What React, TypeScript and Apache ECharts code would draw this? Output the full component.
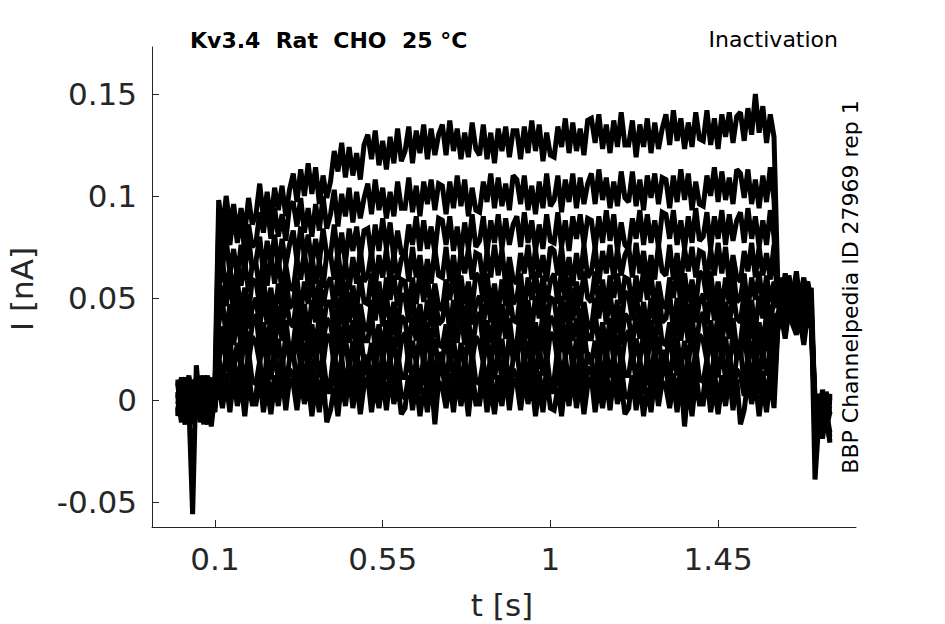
import React, { useEffect, useRef } from "react";
import * as echarts from "echarts";

// Currents in pA, sampled every 10 ms from t = 0.00 s to t = 1.75 s.
// Segments: pre (0.00-0.10, 11), pulse (0.11-1.60, 150), test (1.61-1.70, 10), tail (1.71-1.75, 5)
const sampleStepS = 0.01;

const traceA = [
  8, -9, 11, 2, -12, 9, 0, -10, 6, -4, 10,
  98, 83, 100, 85, 96, 81, 94, 82, 99, 86,
  91, 106, 89, 102, 87, 104, 93, 105, 90, 103,
  111, 97, 113, 100, 116, 101, 114, 96, 110, 99,
  107, 122, 112, 126, 109, 124, 110, 121, 108, 125,
  130, 118, 132, 115, 127, 113, 129, 116, 133, 117,
  122, 134, 116, 132, 121, 135, 118, 133, 120, 130,
  135, 120, 137, 122, 133, 118, 131, 119, 136, 123,
  120, 135, 118, 131, 116, 133, 122, 134, 119, 132,
  132, 118, 134, 121, 137, 122, 135, 117, 131, 120,
  119, 134, 124, 138, 121, 136, 122, 133, 120, 137,
  138, 126, 140, 123, 135, 121, 137, 124, 141, 125,
  125, 137, 119, 135, 124, 138, 121, 136, 123, 133,
  140, 125, 142, 127, 138, 123, 136, 124, 141, 128,
  127, 142, 125, 138, 123, 140, 129, 141, 126, 139,
  141, 127, 143, 130, 150, 131, 144, 126, 140, 129,
  58, 49, 62, 53, 45, 57, 51, 60, 47, 55,
  -5, -14, 2, -9, -3,
];

const traceB = [
  -6, 10, -11, 4, 1, -8, 12, -3, 7, -13, 3,
  87, 73, 89, 76, 92, 77, 90, 72, 86, 75,
  77, 92, 82, 96, 79, 94, 80, 91, 78, 95,
  97, 85, 99, 82, 94, 80, 96, 83, 100, 84,
  91, 103, 85, 101, 90, 104, 87, 102, 89, 99,
  106, 91, 108, 93, 104, 89, 102, 90, 107, 94,
  94, 109, 92, 105, 90, 107, 96, 108, 93, 106,
  105, 91, 107, 94, 110, 95, 108, 90, 104, 93,
  92, 107, 97, 111, 94, 109, 95, 106, 93, 110,
  108, 96, 110, 93, 105, 91, 107, 94, 111, 95,
  98, 110, 92, 108, 97, 111, 94, 109, 96, 106,
  111, 96, 113, 98, 109, 94, 107, 95, 112, 99,
  97, 112, 95, 108, 93, 110, 99, 111, 96, 109,
  108, 94, 110, 97, 113, 98, 111, 93, 107, 96,
  95, 110, 100, 114, 97, 112, 98, 109, 96, 113,
  111, 99, 113, 96, 108, 94, 110, 97, 114, 98,
  52, 60, 47, 56, 50, 63, 48, 54, 58, 46,
  -39, -11, -4, -16, 1,
];

const traceC = [
  9, -4, 2, 12, -9, 5, -7, 10, -5, 6, -2,
  77, 65, 79, 62, 74, 60, 76, 63, 80, 64,
  68, 80, 62, 78, 67, 81, 64, 79, 66, 76,
  83, 68, 85, 70, 81, 66, 79, 67, 84, 71,
  71, 86, 69, 82, 67, 84, 73, 85, 70, 83,
  84, 70, 86, 73, 89, 74, 87, 69, 83, 72,
  71, 86, 76, 90, 73, 88, 74, 85, 72, 89,
  88, 76, 90, 73, 85, 71, 87, 74, 91, 75,
  78, 90, 72, 88, 77, 91, 74, 89, 76, 86,
  90, 75, 92, 77, 88, 73, 86, 74, 91, 78,
  77, 92, 75, 88, 73, 90, 79, 91, 76, 89,
  88, 74, 90, 77, 93, 78, 91, 73, 87, 76,
  74, 89, 79, 93, 76, 91, 77, 88, 75, 92,
  91, 79, 93, 76, 88, 74, 90, 77, 94, 78,
  80, 92, 74, 90, 79, 93, 76, 91, 78, 88,
  92, 77, 94, 79, 90, 75, 88, 76, 93, 80,
  50, 57, 44, 61, 52, 48, 55, 42, 58, 49,
  -8, 3, -12, -6, -18,
];

const traceD = [
  -8, 5, 11, -6, 7, -2, -10, 4, 12, -3, 8,
  54, 69, 52, 65, 50, 67, 56, 68, 53, 66,
  67, 53, 69, 56, 72, 57, 70, 52, 66, 55,
  54, 69, 59, 73, 56, 71, 57, 68, 55, 72,
  71, 59, 73, 56, 68, 54, 70, 57, 74, 58,
  61, 73, 55, 71, 60, 74, 57, 72, 59, 69,
  73, 58, 75, 60, 71, 56, 69, 57, 74, 61,
  60, 75, 58, 71, 56, 73, 62, 74, 59, 72,
  71, 57, 73, 60, 76, 61, 74, 56, 70, 59,
  57, 72, 62, 76, 59, 74, 60, 71, 58, 75,
  73, 61, 75, 58, 70, 56, 72, 59, 76, 60,
  63, 75, 57, 73, 62, 76, 59, 74, 61, 71,
  75, 60, 77, 62, 73, 58, 71, 59, 76, 63,
  61, 76, 59, 72, 57, 74, 63, 75, 60, 73,
  72, 58, 74, 61, 77, 62, 75, 57, 71, 60,
  58, 73, 63, 77, 60, 75, 61, 72, 59, 76,
  47, 54, 41, 58, 50, 45, 52, 39, 56, 44,
  -2, -13, 5, -8, -21,
];

const traceE = [
  3, -11, 6, -5, 10, -7, 4, -12, 8, 1, -6,
  41, 56, 46, 60, 43, 58, 44, 55, 42, 59,
  58, 46, 60, 43, 55, 41, 57, 44, 61, 45,
  48, 60, 42, 58, 47, 61, 44, 59, 46, 56,
  60, 45, 62, 47, 58, 43, 56, 44, 61, 48,
  47, 62, 45, 58, 43, 60, 49, 61, 46, 59,
  58, 44, 60, 47, 63, 48, 61, 43, 57, 46,
  44, 59, 49, 63, 46, 61, 47, 58, 45, 62,
  60, 48, 62, 45, 57, 43, 59, 46, 63, 47,
  50, 62, 44, 60, 49, 63, 46, 61, 48, 58,
  62, 47, 64, 49, 60, 45, 58, 46, 63, 50,
  48, 63, 46, 59, 44, 61, 50, 62, 47, 60,
  59, 45, 61, 48, 64, 49, 62, 44, 58, 47,
  45, 60, 50, 64, 47, 62, 48, 59, 46, 63,
  61, 49, 63, 46, 58, 44, 60, 47, 64, 48,
  50, 62, 44, 60, 49, 63, 46, 61, 48, 58,
  45, 52, 40, 55, 48, 43, 50, 37, 53, 42,
  -10, -2, -15, 4, -7,
];

const traceF = [
  -5, 7, -2, 11, -9, 3, 9, -4, -12, 6, 4,
  37, 49, 31, 47, 36, 50, 33, 48, 35, 45,
  50, 35, 52, 37, 48, 33, 46, 34, 51, 38,
  36, 51, 34, 47, 32, 49, 38, 50, 35, 48,
  48, 34, 50, 37, 53, 38, 51, 33, 47, 36,
  34, 49, 39, 53, 36, 51, 37, 48, 35, 52,
  50, 38, 52, 35, 47, 33, 49, 36, 53, 37,
  39, 51, 33, 49, 38, 52, 35, 50, 37, 47,
  51, 36, 53, 38, 49, 34, 47, 35, 52, 39,
  38, 53, 36, 49, 34, 51, 40, 52, 37, 50,
  49, 35, 51, 38, 54, 39, 52, 34, 48, 37,
  35, 50, 40, 54, 37, 52, 38, 49, 36, 53,
  51, 39, 53, 36, 48, 34, 50, 37, 54, 38,
  40, 52, 34, 50, 39, 53, 36, 51, 38, 48,
  52, 37, 54, 39, 50, 35, 48, 36, 53, 40,
  38, 53, 36, 49, 34, 51, 40, 52, 37, 50,
  51, 44, 57, 48, 53, 41, 55, 46, 50, 39,
  2, -9, -3, -14, -6,
];

const traceG = [
  10, -3, -12, 4, 0, 11, -6, 7, -1, -9, 5,
  25, 36, 22, 40, 27, 42, 26, 39, 23, 37,
  42, 25, 38, 27, 41, 26, 43, 29, 39, 24,
  27, 43, 26, 39, 23, 37, 25, 42, 28, 40,
  37, 27, 40, 25, 42, 28, 39, 23, 41, 29,
  29, 42, 25, 37, 24, 39, 28, 43, 26, 41,
  39, 26, 41, 29, 40, 23, 38, 25, 42, 27,
  26, 37, 23, 41, 28, 43, 27, 40, 24, 38,
  43, 26, 39, 28, 42, 27, 44, 30, 40, 25,
  28, 44, 27, 40, 24, 38, 26, 43, 29, 41,
  38, 28, 41, 26, 43, 29, 40, 24, 42, 30,
  30, 43, 26, 38, 25, 40, 29, 44, 27, 42,
  40, 27, 42, 30, 41, 24, 39, 26, 43, 28,
  27, 38, 24, 42, 29, 44, 28, 41, 25, 39,
  43, 26, 39, 28, 42, 27, 44, 30, 40, 25,
  28, 44, 27, 40, 24, 38, 26, 43, 29, 41,
  42, 49, 38, 53, 45, 40, 47, 35, 51, 43,
  -6, -17, -1, -11, 3,
];

const traceH = [
  -2, 11, 3, -10, 6, -6, 2, 12, -8, 4, -4,
  18, 34, 17, 30, 14, 28, 16, 33, 19, 31,
  28, 18, 31, 16, 33, 19, 30, 14, 32, 20,
  20, 33, 16, 28, 15, 30, 19, 34, 17, 32,
  30, 17, 32, 20, 31, 14, 29, 16, 33, 18,
  17, 28, 14, 32, 19, 34, 18, 31, 15, 29,
  33, 16, 29, 18, 32, 17, 34, 20, 30, 15,
  18, 34, 17, 30, 14, 28, 16, 33, 19, 31,
  28, 18, 31, 16, 33, 19, 30, 14, 32, 20,
  21, 34, 17, 29, 16, 31, 20, 35, 18, 33,
  31, 18, 33, 21, 32, 15, 30, 17, 34, 19,
  18, 29, 15, 33, 20, 35, 19, 32, 16, 30,
  34, 17, 30, 19, 33, 18, 35, 21, 31, 16,
  19, 35, 18, 31, 15, 29, 17, 34, 20, 32,
  29, 19, 32, 17, 34, 20, 31, 15, 33, 21,
  21, 34, 17, 29, 16, 31, 20, 35, 18, 33,
  40, 47, 36, 50, 43, 38, 45, 33, 48, 41,
  -12, -4, -19, -7, -1,
];

const traceI = [
  4, -9, 9, 1, -5, 7, -11, 0, 10, -7, 2,
  21, 8, 23, 11, 22, 5, 20, 7, 24, 9,
  8, 19, 5, 23, 10, 25, 9, 22, 6, 20,
  24, 7, 20, 9, 23, 8, 25, 11, 21, 6,
  9, 25, 8, 21, 5, 19, 7, 24, 10, 22,
  19, 9, 22, 7, 24, 10, 21, 5, 23, 11,
  11, 24, 7, 19, 6, 21, 10, 25, 8, 23,
  21, 8, 23, 11, 22, 5, 20, 7, 24, 9,
  8, 19, 5, 23, 10, 25, 9, 22, 6, 20,
  25, 8, 21, 10, 24, 9, 26, 12, 22, 7,
  10, 26, 9, 22, 6, 20, 8, 25, 11, 23,
  20, 10, 23, 8, 25, 11, 22, 6, 24, 12,
  12, 25, 8, 20, 7, 22, 11, 26, 9, 24,
  22, 9, 24, 12, 23, 6, 21, 8, 25, 10,
  9, 20, 6, 24, 11, 26, 10, 23, 7, 21,
  25, 8, 21, 10, 24, 9, 26, 12, 22, 7,
  38, 45, 34, 48, 41, 36, 43, 31, 46, 39,
  -4, -15, 1, -9, -20,
];

const traceJ = [
  -7, 6, -1, 9, -10, 3, 8, -5, 2, 11, -3,
  17, 0, 13, 2, 16, 1, 18, 4, 14, -1,
  2, 18, 1, 14, -2, 12, 0, 17, 3, 15,
  12, 2, 15, 0, 17, 3, 14, -2, 16, 4,
  4, 17, 0, 12, -1, 14, 3, 18, 1, 16,
  14, 1, 16, 4, 15, -2, 13, 0, 17, 2,
  1, 12, -2, 16, 3, 18, 2, 15, -1, 13,
  17, 0, 13, 2, 16, 1, 18, 4, 14, -1,
  2, 18, 1, 14, -2, 12, 0, 17, 3, 15,
  12, 2, 15, 0, 17, 3, 14, -2, 16, 4,
  4, 17, 0, 12, -1, 14, 3, 18, 1, 16,
  14, 1, 16, 4, 15, -2, 13, 0, 17, 2,
  1, 12, -2, 16, 3, 18, 2, 15, -1, 13,
  17, 0, 13, 2, 16, 1, 18, 4, 14, -1,
  2, 18, 1, 14, -2, 12, 0, 17, 3, 15,
  12, 2, 15, 0, 17, 3, 14, -2, 16, 4,
  36, 43, 32, 46, 39, 34, 41, 29, 44, 37,
  -9, 0, -13, -5, -16,
];

const traceK = [
  2, -8, 7, -3, -56, 17, -5, 9, -10, 4, -1,
  6, -4, 9, -6, 11, -3, 8, -8, 10, -2,
  -2, 11, -6, 6, -7, 8, -3, 12, -5, 10,
  8, -5, 10, -2, 9, -8, 7, -6, 11, -11,
  -5, 6, -8, 10, -3, 12, -4, 9, -7, 7,
  11, -6, 7, -4, 10, -5, 12, -2, 8, -7,
  -4, 12, -5, 8, -8, 6, -6, 11, -12, 9,
  6, -4, 9, -6, 11, -3, 8, -8, 10, -2,
  -2, 11, -6, 6, -7, 8, -3, 12, -5, 10,
  8, -5, 10, -2, 9, -8, 7, -6, 11, -4,
  -5, 6, -8, 10, -3, 12, -4, 9, -7, 7,
  11, -6, 7, -4, 10, -5, 12, -2, 8, -7,
  -4, 12, -5, 8, -8, 6, -6, 11, -3, 9,
  6, -4, 9, -6, 11, -13, 8, -8, 10, -2,
  -2, 11, -6, 6, -7, 8, -3, 12, -5, 10,
  -12, -5, 10, -2, 9, -8, 7, -6, 11, -4,
  34, 41, 30, 44, 37, 32, 39, 27, 42, 35,
  -7, -18, -2, -12, 2,
];

const traces = [traceA, traceB, traceC, traceD, traceE, traceF, traceG, traceH, traceI, traceJ, traceK];

const xTickValues = [0.1, 0.55, 1, 1.45];
const yTickValues = [-0.05, 0, 0.05, 0.1, 0.15];

const titleText = "Kv3.4  Rat  CHO  25 °C";
const protocolText = "Inactivation";
const sourceText = "BBP Channelpedia ID 27969 rep 1";
const xName = "t [s]";
const yName = "I [nA]";

const FONT = '"DejaVu Sans", "Noto Sans", sans-serif';
const AXIS_COLOR = "#262626";

export default function App() {
  const ref = useRef<HTMLDivElement>(null);

  useEffect(() => {
    if (!ref.current) return;
    const chart = echarts.init(ref.current, undefined, { renderer: "svg" });

    const series = traces.map((tr) => ({
      type: "line",
      data: tr.map((v, i) => [+(i * sampleStepS).toFixed(2), v / 1000]),
      showSymbol: false,
      symbol: "none",
      silent: true,
      lineStyle: { color: "#000", width: 5, join: "miter", miterLimit: 2 },
      emphasis: { disabled: true },
      z: 2,
    }));

    chart.setOption({
      animation: false,
      backgroundColor: "#fff",
      grid: { left: 152, right: 89, top: 47, bottom: 97, containLabel: false },
      xAxis: {
        type: "value",
        min: -0.069,
        max: 1.82,
        axisLine: { show: true, onZero: false, lineStyle: { color: AXIS_COLOR, width: 1 } },
        axisTick: { show: true, inside: true, length: 7, lineStyle: { color: AXIS_COLOR }, customValues: xTickValues },
        axisLabel: {
          show: true,
          customValues: xTickValues,
          formatter: (v: number) => String(v),
          fontSize: 31,
          fontFamily: FONT,
          color: AXIS_COLOR,
          margin: 16,
        },
        splitLine: { show: false },
      },
      yAxis: {
        type: "value",
        min: -0.0623,
        max: 0.173,
        axisLine: { show: true, onZero: false, lineStyle: { color: AXIS_COLOR, width: 1 } },
        axisTick: { show: true, inside: true, length: 7, lineStyle: { color: AXIS_COLOR }, customValues: yTickValues },
        axisLabel: {
          show: true,
          customValues: yTickValues,
          formatter: (v: number) => String(v),
          fontSize: 31,
          fontFamily: FONT,
          color: AXIS_COLOR,
          margin: 15,
        },
        splitLine: { show: false },
      },
      graphic: [
        {
          type: "text",
          x: 190,
          y: 40,
          style: { text: titleText, fontSize: 22, fontWeight: "bold", fontFamily: FONT, fill: "#000", align: "left", verticalAlign: "middle" },
        },
        {
          type: "text",
          x: 838,
          y: 39,
          style: { text: protocolText, fontSize: 22, fontFamily: FONT, fill: "#000", align: "right", verticalAlign: "middle" },
        },
        {
          type: "text",
          x: 850,
          y: 287,
          rotation: Math.PI / 2,
          style: { text: sourceText, fontSize: 22, fontFamily: FONT, fill: "#000", align: "center", verticalAlign: "middle" },
        },
        {
          type: "text",
          x: 502,
          y: 605,
          style: { text: xName, fontSize: 31, fontFamily: FONT, fill: AXIS_COLOR, align: "center", verticalAlign: "middle" },
        },
        {
          type: "text",
          x: 22,
          y: 289,
          rotation: Math.PI / 2,
          style: { text: yName, fontSize: 31, fontFamily: FONT, fill: AXIS_COLOR, align: "center", verticalAlign: "middle" },
        },
      ],
      series,
    });

    return () => chart.dispose();
  }, []);

  return <div ref={ref} style={{ position: "fixed", left: 0, top: 0, width: 945, height: 624, background: "#fff" }} />;
}
